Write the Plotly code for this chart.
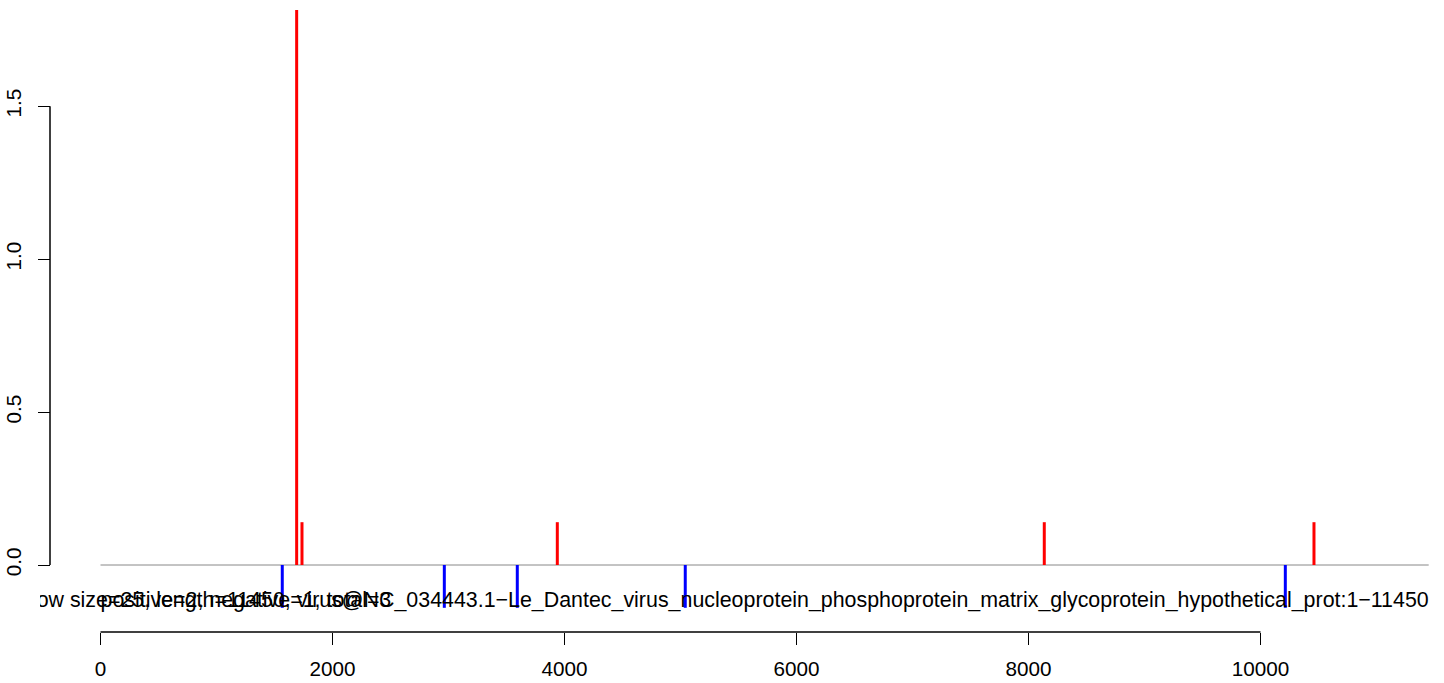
import plotly.graph_objects as go

# ---- data ----
genome_len = 11450
pos_x = [1691, 1737, 3938, 8136, 10461]
pos_y = [1.815, 0.14, 0.14, 0.14, 0.14]
neg_x = [1567, 2964, 3593, 5041, 10214]
neg_y = [-0.14, -0.14, -0.14, -0.14, -0.14]
x_ticks = [0, 2000, 4000, 6000, 8000, 10000]
y_ticks = [0.0, 0.5, 1.0, 1.5]
y_tick_text = ["0.0", "0.5", "1.0", "1.5"]
label_a = ("window size=25, length=11450, virus@NC_034443.1\u2212Le_Dantec_virus_nucleoprotein_"
           "phosphoprotein_matrix_glycoprotein_hypothetical_prot:1\u221211450")
label_b = "positive=2, negative=1, total=3"
label_y = -0.12

W, H = 1444, 683
FONT = "Liberation Sans, Arial, sans-serif"
FS = 21.4
TICK_FS = 20.7


def segs(xs, ys):
    sx, sy = [], []
    for x, y in zip(xs, ys):
        sx += [x, x, None]
        sy += [0, y, None]
    return sx, sy


fig = go.Figure()
# baseline
fig.add_trace(go.Scatter(x=[0, genome_len], y=[0, 0], mode="lines",
                         line=dict(color="#888888", width=1), hoverinfo="skip"))
px_, py_ = segs(pos_x, pos_y)
fig.add_trace(go.Scatter(x=px_, y=py_, mode="lines",
                         line=dict(color="#ff0000", width=3), hoverinfo="skip"))
nx_, ny_ = segs(neg_x, neg_y)
fig.add_trace(go.Scatter(x=nx_, y=ny_, mode="lines",
                         line=dict(color="#0000ff", width=3), hoverinfo="skip"))
# overlapping labels (clipped by plot area like in the reference)
fig.add_trace(go.Scatter(x=[genome_len], y=[label_y], mode="text", text=[label_a],
                         textposition="middle left", cliponaxis=True,
                         textfont=dict(family=FONT, size=FS, color="black"),
                         hoverinfo="skip"))
fig.add_trace(go.Scatter(x=[0], y=[label_y], mode="text", text=[label_b],
                         textposition="middle right", cliponaxis=True,
                         textfont=dict(family=FONT, size=FS, color="black"),
                         hoverinfo="skip"))

# geometry
left_px, axis_px = 40, 50
x0_px, scale_x = 100.5, 0.116  # px of data 0, px per unit
y0_px, scale_y, bottom_px = 565, 305.8, 632
xr = [(left_px - x0_px) / scale_x, (W - x0_px) / scale_x]
yr = [-(bottom_px - y0_px) / scale_y, y0_px / scale_y]

fig.update_layout(
    width=W, height=H,
    margin=dict(l=0, r=0, t=0, b=H - bottom_px),
    paper_bgcolor="white", plot_bgcolor="white",
    showlegend=False,
    font=dict(family=FONT, size=TICK_FS, color="black"),
    xaxis=dict(domain=[left_px / W, 1], range=xr, showgrid=False, zeroline=False,
               showline=False, tickmode="array", tickvals=x_ticks,
               ticktext=[str(v) for v in x_ticks], ticks="outside", ticklen=12,
               tickwidth=1, tickcolor="black", tickfont=dict(size=TICK_FS),
               ticklabelstandoff=6),
    yaxis=dict(range=yr, anchor="free", position=axis_px / W, showgrid=False,
               zeroline=False, showline=False, tickmode="array", tickvals=y_ticks,
               ticktext=y_tick_text, tickangle=-90, ticks="outside", ticklen=12,
               tickwidth=1, tickcolor="black", tickfont=dict(size=TICK_FS),
               ticklabelstandoff=9),
    shapes=[
        dict(type="line", xref="x", yref="paper", x0=min(x_ticks), x1=max(x_ticks),
             y0=0, y1=0, line=dict(color="black", width=1.5)),
        dict(type="line", xref="paper", yref="y", x0=axis_px / W, x1=axis_px / W,
             y0=min(y_ticks), y1=max(y_ticks), line=dict(color="black", width=1.5)),
    ],
)

fig.write_html("out.html", config={"displayModeBar": False},
               post_script="document.body.style.margin='0px';document.body.style.overflow='hidden';")
